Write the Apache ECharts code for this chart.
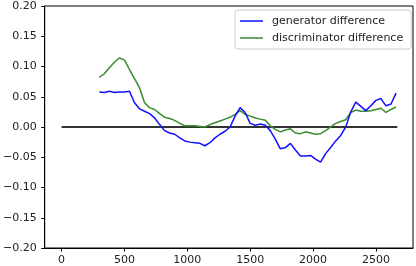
<!DOCTYPE html>
<html>
<head>
<meta charset="utf-8">
<script src="https://cdn.jsdelivr.net/npm/echarts@6/dist/echarts.min.js"></script>
<style>html,body{margin:0;padding:0;background:#fff}#c{width:416px;height:266px}</style>
</head>
<body>
<div id="c"></div>
<script>
var steps = [300,340,380,420,460,500,540,580,620,660,700,740,780,820,860,900,940,980,1020,1060,1100,1140,1180,1220,1260,1300,1340,1380,1420,1460,1500,1540,1580,1620,1660,1700,1740,1780,1820,1860,1900,1940,1980,2020,2060,2100,2140,2180,2220,2260,2300,2340,2380,2420,2460,2500,2540,2580,2620,2660];
var generatorDiff = [0.058,0.057,0.059,0.057,0.058,0.058,0.059,0.040,0.030,0.026,0.022,0.015,0.004,-0.006,-0.010,-0.012,-0.018,-0.023,-0.025,-0.026,-0.027,-0.031,-0.026,-0.018,-0.012,-0.007,0.000,0.018,0.032,0.024,0.006,0.003,0.005,0.003,-0.006,-0.020,-0.036,-0.034,-0.027,-0.038,-0.048,-0.048,-0.047,-0.053,-0.058,-0.044,-0.034,-0.023,-0.014,0.000,0.025,0.041,0.034,0.027,0.035,0.044,0.047,0.035,0.038,0.056];
var discriminatorDiff = [0.082,0.088,0.098,0.107,0.114,0.111,0.095,0.080,0.065,0.040,0.032,0.029,0.022,0.016,0.014,0.011,0.006,0.002,0.002,0.002,0.001,0.000,0.004,0.007,0.010,0.013,0.016,0.021,0.027,0.021,0.018,0.015,0.013,0.011,0.002,-0.004,-0.008,-0.005,-0.003,-0.010,-0.011,-0.008,-0.010,-0.012,-0.011,-0.006,0.000,0.006,0.009,0.012,0.024,0.028,0.026,0.026,0.027,0.029,0.031,0.024,0.029,0.033];
var zeroX = [0, 2670];
var zeroY = [0, 0];
var xTicks = [0, 500, 1000, 1500, 2000, 2500];
var seriesNames = ['generator difference', 'discriminator difference'];

var font = 'DejaVu Sans';
var chart = echarts.init(document.getElementById('c'), null, {renderer: 'canvas'});
function pairs(xs, ys) { return xs.map(function (x, i) { return [x, ys[i]]; }); }
chart.setOption({
  animation: false,
  backgroundColor: '#fff',
  grid: {left: 42, right: 3, top: 6, bottom: 18, show: true, borderColor: '#000', borderWidth: 1, backgroundColor: 'transparent'},
  xAxis: {
    type: 'value', min: -134, max: 2795,
    splitLine: {show: false},
    axisLine: {show: true, onZero: false, lineStyle: {color: '#000', width: 1}},
    axisTick: {show: true, length: 3.5, customValues: xTicks, lineStyle: {color: '#000'}},
    axisLabel: {customValues: xTicks, margin: 7, color: '#222', fontSize: 11, fontFamily: font,
      formatter: function (v) { return String(v); }}
  },
  yAxis: {
    type: 'value', min: -0.2, max: 0.2, interval: 0.05,
    splitLine: {show: false},
    axisLine: {show: true, onZero: false, lineStyle: {color: '#000', width: 1}},
    axisTick: {show: true, length: 3.5, lineStyle: {color: '#000'}},
    axisLabel: {margin: 8, color: '#222', fontSize: 11, fontFamily: font,
      formatter: function (v) { return v.toFixed(2).replace('-', '\u2212'); }}
  },
  legend: {
    data: seriesNames,
    orient: 'vertical', left: 235, top: 10,
    padding: [4, 8, 4, 5],
    icon: 'rect',
    itemWidth: 23, itemHeight: 1.5, itemGap: 3,
    backgroundColor: '#fff', borderColor: '#ccc', borderWidth: 1, borderRadius: 3,
    textStyle: {fontSize: 11, fontFamily: font, color: '#222', lineHeight: 14, padding: [0, 0, 0, 4]}
  },
  series: [
    {name: 'zero', type: 'line', data: pairs(zeroX, zeroY), symbol: 'none', z: 1,
     lineStyle: {color: '#333', width: 2}},
    {name: seriesNames[0], type: 'line', data: pairs(steps, generatorDiff), symbol: 'none', z: 3,
     lineStyle: {color: '#1010ff', width: 1.5}, itemStyle: {color: '#1010ff'}},
    {name: seriesNames[1], type: 'line', data: pairs(steps, discriminatorDiff), symbol: 'none', z: 2,
     lineStyle: {color: '#3a8a30', width: 1.5}, itemStyle: {color: '#3a8a30'}}
  ]
});
</script>
</body>
</html>
